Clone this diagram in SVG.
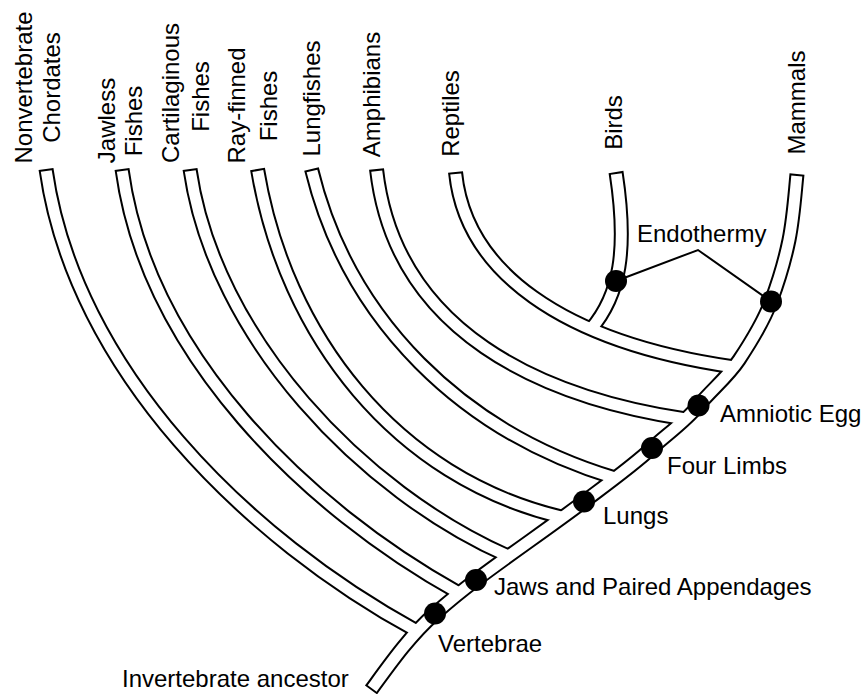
<svg xmlns="http://www.w3.org/2000/svg" width="866" height="694" viewBox="0 0 866 694">
<style>
.o{fill:none;stroke:#000;stroke-width:15;stroke-linecap:butt;stroke-linejoin:round}
.i{fill:none;stroke:#fff;stroke-width:11;stroke-linecap:butt;stroke-linejoin:round}
.cap{stroke-dasharray:0 2 5000}
.ln{fill:none;stroke:#000;stroke-width:2}
.dot{fill:#000}
text{font-family:"Liberation Sans",Arial,Helvetica,sans-serif;font-size:24px;fill:#000}
.v{text-anchor:middle}
</style>
<defs>
<path id="p-trunk" d="M797,174 C794.8,196.2 793.4,218.2 789,240 C784.7,261 778.5,281.4 771,301.5 C763.2,322.4 751.2,341.6 739,360 C727.8,376.8 711.5,389.9 698.5,405.5 C685.1,421.7 667.5,433.9 652,448 C630.7,467.3 607,484.2 584,501.5 C548.4,528.2 511.6,553.3 476,580 C461.9,590.6 448.2,601.9 435,613.5 C410.1,635.4 390.6,663.1 371,690"/>
<path id="p-trunk-i" d="M797,174 C794.8,196.2 793.4,218.2 789,240 C784.7,261 778.5,281.4 771,301.5 C763.2,322.4 751.2,341.6 739,360 C727.8,376.8 711.5,389.9 698.5,405.5 C685.1,421.7 667.5,433.9 652,448 C630.7,467.3 607,484.2 584,501.5 C548.4,528.2 511.6,553.3 476,580 C461.9,590.6 448.2,601.9 435,613.5 C410.1,635.4 390.6,663.1 372.2,688.4"/>
<path id="p-nv" d="M46,169 C74,370 248,539 417,631"/>
<path id="p-jl" d="M122,169 C147,354 306,508 459,593"/>
<path id="p-ca" d="M190,169 C214,338 363,492 508,556"/>
<path id="p-rf" d="M257.5,169 C285,335 395,478 562.5,517.3"/>
<path id="p-lf" d="M311.5,169 C348,320 462,432 615,478"/>
<path id="p-am" d="M376.5,169 C394.75,332.5 542.75,397.5 685.5,419"/>
<path id="p-re" d="M455.5,172 C465,270 560,342 734,367"/>
<path id="p-bi" d="M616,172 C628,250 620,295 591,329"/>
</defs>
<g id="connectors">
<use href="#p-trunk" class="o"/>
<use href="#p-nv" class="o"/>
<use href="#p-jl" class="o"/>
<use href="#p-ca" class="o"/>
<use href="#p-rf" class="o"/>
<use href="#p-lf" class="o"/>
<use href="#p-am" class="o"/>
<use href="#p-re" class="o"/>
<use href="#p-bi" class="o"/>
<use href="#p-trunk-i" class="i cap"/>
<use href="#p-nv" class="i cap"/>
<use href="#p-jl" class="i cap"/>
<use href="#p-ca" class="i cap"/>
<use href="#p-rf" class="i cap"/>
<use href="#p-lf" class="i cap"/>
<use href="#p-am" class="i cap"/>
<use href="#p-re" class="i cap"/>
<use href="#p-bi" class="i cap"/>
<polyline class="ln" points="616,281 698,250 771,301.5"/>
</g>
<g id="node-nonvertebrate-chordates">
<text class="v" transform="translate(32,87.5) rotate(-90)">Nonvertebrate</text>
<text class="v" transform="translate(59.5,87.5) rotate(-90)">Chordates</text>
</g>
<g id="node-jawless-fishes">
<text class="v" transform="translate(114.5,120.5) rotate(-90)">Jawless</text>
<text class="v" transform="translate(142,121) rotate(-90)">Fishes</text>
</g>
<g id="node-cartilaginous-fishes">
<text class="v" transform="translate(178.5,93) rotate(-90)">Cartilaginous</text>
<text class="v" transform="translate(208.5,96.5) rotate(-90)">Fishes</text>
</g>
<g id="node-ray-finned-fishes">
<text class="v" transform="translate(245,105.5) rotate(-90)">Ray-finned</text>
<text class="v" transform="translate(277,106) rotate(-90)">Fishes</text>
</g>
<g id="node-lungfishes">
<text class="v" transform="translate(320,98.5) rotate(-90)">Lungfishes</text>
</g>
<g id="node-amphibians">
<text class="v" transform="translate(380,94.5) rotate(-90)">Amphibians</text>
</g>
<g id="node-reptiles">
<text class="v" transform="translate(459,113.5) rotate(-90)">Reptiles</text>
</g>
<g id="node-birds">
<text class="v" transform="translate(622,122.5) rotate(-90)">Birds</text>
</g>
<g id="node-mammals">
<text class="v" transform="translate(805,102.5) rotate(-90)">Mammals</text>
</g>
<g id="trait-endothermy">
<circle class="dot" cx="616" cy="281" r="11"/>
<circle class="dot" cx="771" cy="301.5" r="11"/>
<text x="637" y="242">Endothermy</text>
</g>
<g id="trait-amniotic-egg">
<circle class="dot" cx="698.5" cy="405.5" r="11"/>
<text x="720" y="422">Amniotic Egg</text>
</g>
<g id="trait-four-limbs">
<circle class="dot" cx="652" cy="448" r="11"/>
<text x="667" y="474">Four Limbs</text>
</g>
<g id="trait-lungs">
<circle class="dot" cx="584" cy="501.5" r="11"/>
<text x="603" y="524">Lungs</text>
</g>
<g id="trait-jaws">
<circle class="dot" cx="476" cy="580" r="11"/>
<text x="494" y="595">Jaws and Paired Appendages</text>
</g>
<g id="trait-vertebrae">
<circle class="dot" cx="435" cy="613.5" r="11"/>
<text x="438" y="652">Vertebrae</text>
</g>
<g id="node-ancestor">
<text x="122" y="687">Invertebrate ancestor</text>
</g>
</svg>
